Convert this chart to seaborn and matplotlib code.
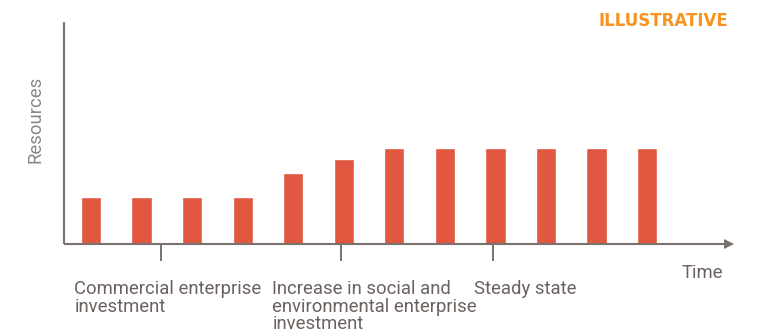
import matplotlib
matplotlib.use("Agg")
import matplotlib.pyplot as plt
import matplotlib.transforms as mtransforms
import seaborn as sns
import pandas as pd

# ---- data ----
periods = [f"T{i}" for i in range(1, 13)]
resources = [21, 21, 21, 21, 32, 38, 43, 43, 43, 43, 43, 43]
phase_labels = [
    "Commercial enterprise\ninvestment",
    "Increase in social and\nenvironmental enterprise\ninvestment",
    "Steady state",
]
phase_ticks = [1.38, 4.94, 7.96]
phase_label_x = [-0.33, 3.586, 7.575]

BAR = "#E1573F"
AXIS = "#7B716E"
TEXT = "#6B625F"
YLAB = "#8C8785"
ORANGE = "#F7931E"

sns.set_style("white")
plt.rcParams["font.family"] = ["Roboto", "DejaVu Sans"]

W, H = 768, 332
fig = plt.figure(figsize=(W / 100, H / 100), dpi=100)
left_px, right_px, top_px, bottom_px = 64, 728.8, 22.3, 243.5
ax = fig.add_axes([left_px / W, (H - bottom_px) / H,
                   (right_px - left_px) / W, (bottom_px - top_px) / H])

df = pd.DataFrame({"period": periods, "resources": resources})
sns.barplot(data=df, x="period", y="resources", color=BAR, saturation=1,
            width=0.4, ax=ax)

ax.set_xlim(-0.534, 12.615)
ax.set_ylim(0, 100)
for s in ["top", "right"]:
    ax.spines[s].set_visible(False)
for s in ["left", "bottom"]:
    ax.spines[s].set_color(AXIS)
    ax.spines[s].set_linewidth(1.5)
    ax.spines[s].set_capstyle("butt")
ax.set_yticks([])
ax.set_xticks(phase_ticks)
ax.set_xticklabels([])
ax.tick_params(axis="x", direction="out", length=12.4, width=1.4,
               color=AXIS, bottom=True)
ax.set_xlabel("")
ax.set_ylabel("")

# arrow head at end of the x axis
ax.plot([1], [0], marker=">", ms=7.9, mew=0, color=AXIS,
        transform=ax.transAxes, clip_on=False)

# phase labels under the axis, one text per line
trans = mtransforms.blended_transform_factory(ax.transData, fig.transFigure)
first_baseline_px, line_step_px = 294.3, 17.5
for lab, xpos in zip(phase_labels, phase_label_x):
    for i, line in enumerate(lab.split("\n")):
        ypx = first_baseline_px + i * line_step_px
        ax.text(xpos, (H - ypx) / H, line, transform=trans, ha="left",
                va="baseline", fontsize=13.3, color=TEXT)

fig.text(681.7 / W, (H - 278) / H, "Time", ha="left", va="baseline",
         fontsize=13.3, color=TEXT)
fig.text(35 / W, (H - 119.5) / H, "Resources", rotation=90, ha="center",
         va="center", fontsize=13.3, color=YLAB)
fig.text(598.3 / W, (H - 26.3) / H, "ILLUSTRATIVE", ha="left",
         va="baseline", fontsize=12, fontweight="bold", color=ORANGE,
         family=["DejaVu Sans"])

fig.savefig("out.png", dpi=100, facecolor="white")
